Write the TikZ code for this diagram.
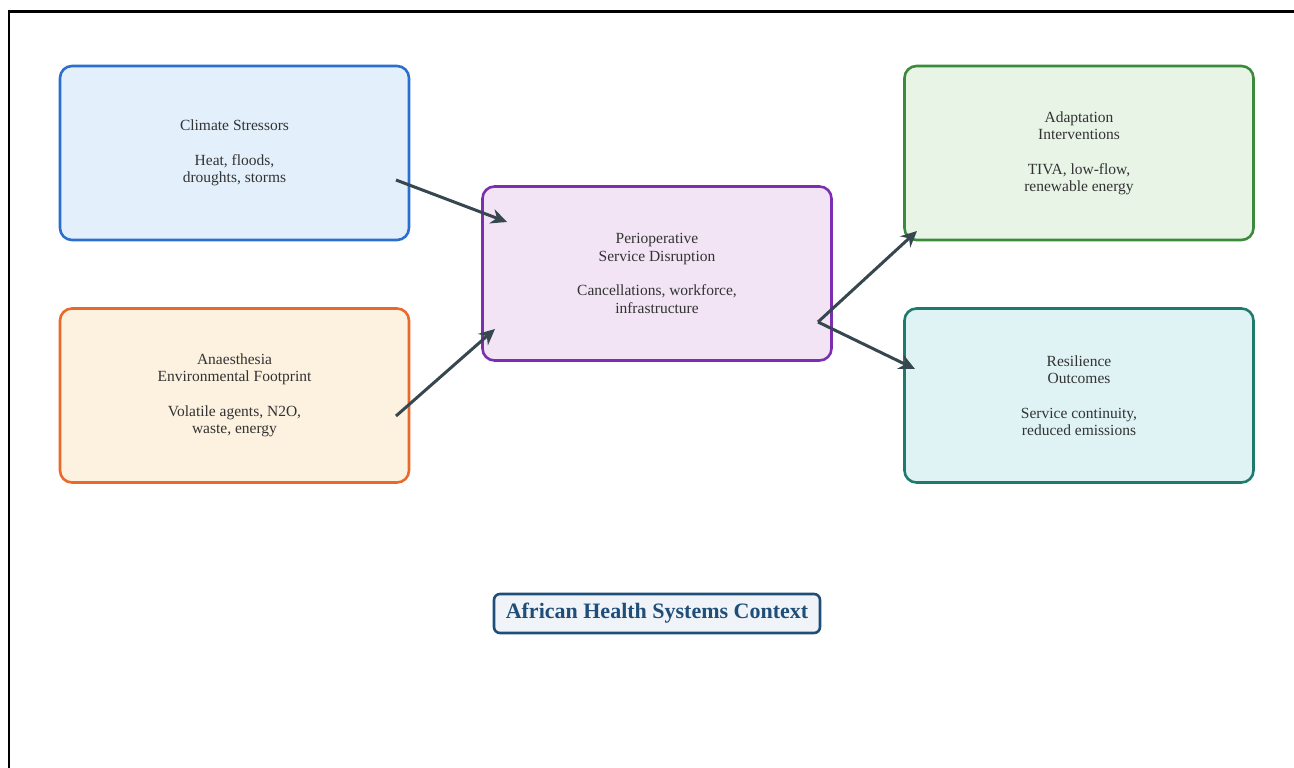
\documentclass[tikz,border=0pt]{standalone}
\usepackage{fontspec}
\setmainfont{Liberation Serif}
\usetikzlibrary{arrows.meta}
\definecolor{txt}{HTML}{333333}
\definecolor{arr}{HTML}{37474F}
\definecolor{bB}{HTML}{2A6FCF}\definecolor{fB}{HTML}{E3F0FB}
\definecolor{bO}{HTML}{E8692A}\definecolor{fO}{HTML}{FDF1E0}
\definecolor{bP}{HTML}{7B2FB0}\definecolor{fP}{HTML}{F2E4F5}
\definecolor{bG}{HTML}{3C8A3C}\definecolor{fG}{HTML}{E7F4E6}
\definecolor{bT}{HTML}{1F7A6E}\definecolor{fT}{HTML}{DFF3F5}
\definecolor{bN}{HTML}{1F4E79}\definecolor{fN}{HTML}{F0F4F8}
\tikzset{
  box/.style={draw, line width=2.6pt, rounded corners=12pt, minimum width=349pt, minimum height=174pt, align=center, text=txt, font=\fontsize{15.5}{17.3}\selectfont, inner sep=0pt},
  conn/.style={draw=arr, line width=3pt, -{Stealth[length=16pt,width=15pt]}},
}
\begin{document}
\begin{tikzpicture}[x=1pt,y=-1pt]
\useasboundingbox (0,0) rectangle (1294,768);
\draw[line width=2.4pt] (9,768) -- (9,11.5) -- (1294,11.5);
\node[box, draw=bB, fill=fB] (cs) at (234.5,153) {Climate Stressors\\[17.3pt]Heat, floods,\\droughts, storms};
\node[box, draw=bO, fill=fO] (ae) at (234.5,395.5) {Anaesthesia\\Environmental Footprint\\[17.3pt]Volatile agents, N2O,\\waste, energy};
\node[box, draw=bP, fill=fP] (pd) at (657,273.5) {Perioperative\\Service Disruption\\[17.3pt]Cancellations, workforce,\\infrastructure};
\node[box, draw=bG, fill=fG] (ai) at (1079,153) {Adaptation\\Interventions\\[17.3pt]TIVA, low-flow,\\renewable energy};
\node[box, draw=bT, fill=fT] (ro) at (1079,395.5) {Resilience\\Outcomes\\[17.3pt]Service continuity,\\reduced emissions};
\node[draw=bN, fill=fN, line width=2.6pt, rounded corners=6pt, minimum width=326pt, minimum height=39pt, inner sep=0pt, text=bN, font=\fontsize{22}{24}\selectfont\bfseries] (ctx) at (657,613.5) {African Health Systems Context};
\coordinate (c1) at (396,180);
\coordinate (p1) at (507,222);
\coordinate (a1) at (396,416);
\coordinate (p2) at (495,329);
\coordinate (p3) at (818,322);
\coordinate (g1) at (917,231);
\coordinate (r1) at (915,369);
\draw[conn] (c1) -- (p1);
\draw[conn] (a1) -- (p2);
\draw[conn] (p3) -- (g1);
\draw[conn] (p3) -- (r1);
\end{tikzpicture}
\end{document}
